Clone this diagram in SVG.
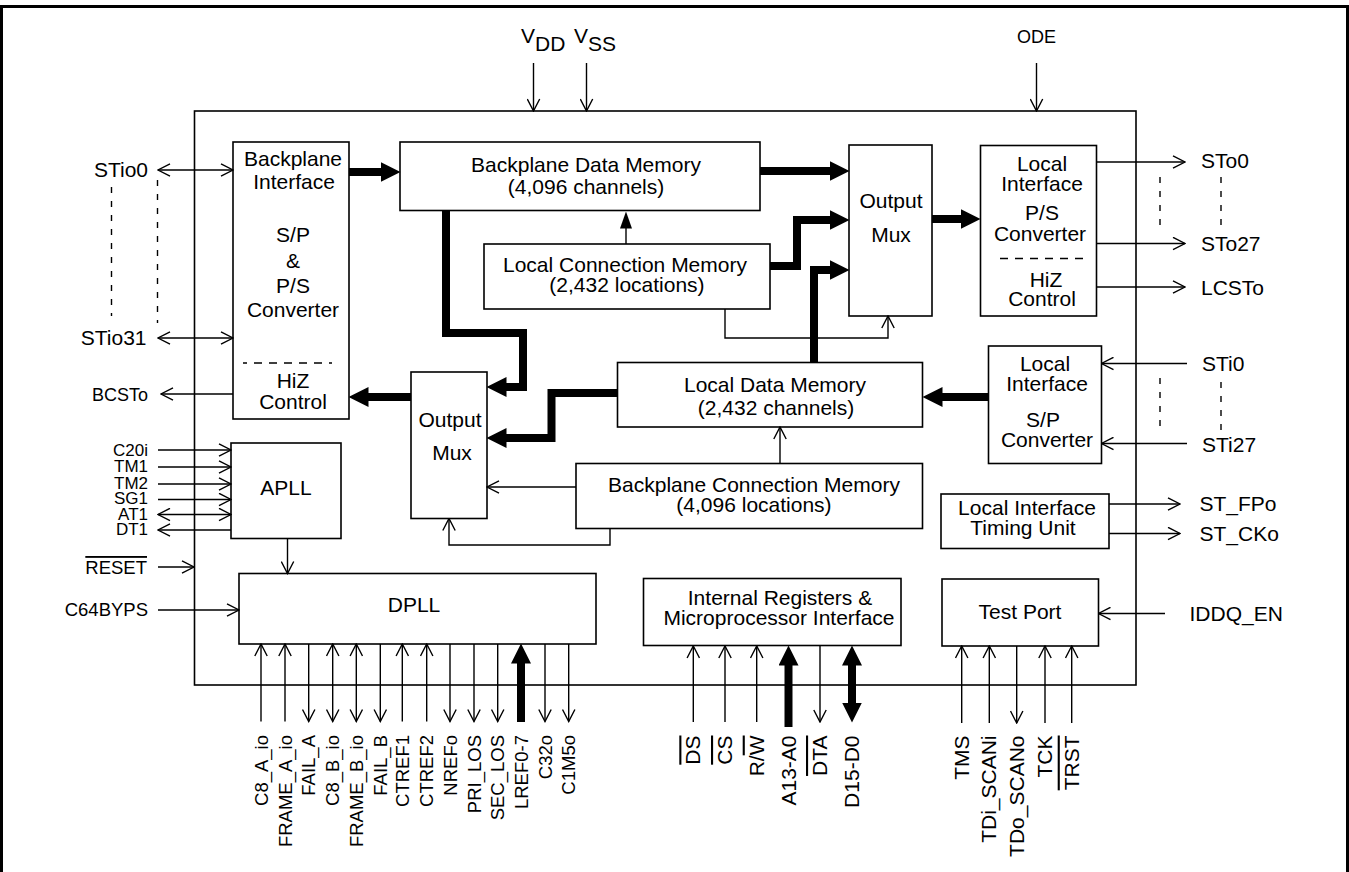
<svg xmlns="http://www.w3.org/2000/svg" width="1349" height="872" viewBox="0 0 1349 872">
<style>
text{font-family:"Liberation Sans",Arial,Helvetica,sans-serif;font-size:21px;fill:#000}
.box{fill:#fff;stroke:#000;stroke-width:1.6}
.c{text-anchor:middle}
.e{text-anchor:end}
.s17{font-size:17px}
.s18{font-size:18px}
.s185{font-size:18.5px}
.thin{fill:none;stroke:#000;stroke-width:1.4}
.thick{fill:none;stroke:#000;stroke-width:8;stroke-linejoin:miter}
.dash{fill:none;stroke:#000;stroke-width:1.4;stroke-dasharray:6 8}
.idash{fill:none;stroke:#000;stroke-width:1.4;stroke-dasharray:8 7}
.ov{text-decoration:overline}
</style>
<defs>
<marker id="oa" viewBox="0 0 14 14" refX="13" refY="7" markerWidth="14" markerHeight="14" markerUnits="userSpaceOnUse" orient="auto-start-reverse">
<path d="M1,0.8 L13,7 L1,13.2" fill="none" stroke="#000" stroke-width="1.4"/>
</marker>
<marker id="fa" viewBox="0 0 20 20" refX="0.5" refY="10" markerWidth="20" markerHeight="20" markerUnits="userSpaceOnUse" orient="auto-start-reverse">
<path d="M0,0 L20,10 L0,20 Z" fill="#000"/>
</marker>
<marker id="fs" viewBox="0 0 17 12" refX="0.5" refY="6" markerWidth="17" markerHeight="12" markerUnits="userSpaceOnUse" orient="auto">
<path d="M0,0 L17,6 L0,12 Z" fill="#000"/>
</marker>
</defs>

<g id="frame"><path d="M1.5,872 V6.5 H1347.5 V872" fill="none" stroke="#000" stroke-width="3"/></g>
<g id="chip"><rect x="194.5" y="111" width="941.5" height="574" fill="none" stroke="#000" stroke-width="1.6"/></g>

<g id="backplane-interface">
<rect class="box" x="233" y="142" width="116" height="277"/>
<text class="c" x="293" y="166">Backplane</text>
<text class="c" x="294" y="188.5">Interface</text>
<text class="c" x="293" y="242">S/P</text>
<text class="c" x="293" y="268">&amp;</text>
<text class="c" x="293" y="293">P/S</text>
<text class="c" x="293" y="317">Converter</text>
<line class="idash" x1="243" y1="363" x2="332" y2="363" stroke-dashoffset="4"/>
<text class="c" x="293" y="388">HiZ</text>
<text class="c" x="293" y="409">Control</text>
</g>

<g id="backplane-data-memory">
<rect class="box" x="400" y="142" width="360" height="68.5"/>
<text class="c" x="586" y="171.5">Backplane Data Memory</text>
<text class="c" x="586" y="194">(4,096 channels)</text>
</g>

<g id="local-connection-memory">
<rect class="box" x="484" y="244" width="286" height="65"/>
<text class="c" x="625" y="271.5">Local Connection Memory</text>
<text class="c" x="627" y="291.5">(2,432 locations)</text>
</g>

<g id="output-mux-right">
<rect class="box" x="849" y="145" width="83" height="171"/>
<text class="c" x="891" y="208">Output</text>
<text class="c" x="891" y="242">Mux</text>
</g>

<g id="local-interface-ps">
<rect class="box" x="980.5" y="145.5" width="116" height="170.5"/>
<text class="c" x="1042" y="170.5">Local</text>
<text class="c" x="1042" y="190.5">Interface</text>
<text class="c" x="1042" y="220">P/S</text>
<text class="c" x="1040" y="240.5">Converter</text>
<line class="idash" x1="1000" y1="258.5" x2="1088" y2="258.5"/>
<text class="c" x="1046" y="286.5">HiZ</text>
<text class="c" x="1042" y="306">Control</text>
</g>

<g id="output-mux-left">
<rect class="box" x="411" y="372" width="76" height="146.5"/>
<text class="c" x="450" y="426.5">Output</text>
<text class="c" x="452" y="460">Mux</text>
</g>

<g id="local-data-memory">
<rect class="box" x="617.5" y="362.5" width="305" height="64.5"/>
<text class="c" x="775" y="392">Local Data Memory</text>
<text class="c" x="776" y="414.5">(2,432 channels)</text>
</g>

<g id="local-interface-sp">
<rect class="box" x="988.5" y="346" width="113" height="117.5"/>
<text class="c" x="1045" y="371">Local</text>
<text class="c" x="1047" y="390.5">Interface</text>
<text class="c" x="1043" y="426.5">S/P</text>
<text class="c" x="1047" y="447">Converter</text>
</g>

<g id="backplane-connection-memory">
<rect class="box" x="576" y="463.5" width="346.5" height="65"/>
<text class="c" x="754" y="491.5">Backplane Connection Memory</text>
<text class="c" x="754" y="512">(4,096 locations)</text>
</g>

<g id="timing-unit">
<rect class="box" x="941" y="494" width="168" height="54.5"/>
<text class="c" x="1027" y="515">Local Interface</text>
<text class="c" x="1023" y="535">Timing Unit</text>
</g>

<g id="apll">
<rect class="box" x="231" y="443" width="110" height="95.5"/>
<text class="c" x="286" y="495">APLL</text>
</g>

<g id="dpll">
<rect class="box" x="239" y="573.5" width="357" height="70.5"/>
<text class="c" x="414" y="612">DPLL</text>
</g>

<g id="internal-registers">
<rect class="box" x="643.5" y="578.5" width="257.5" height="67"/>
<text class="c" x="780" y="605">Internal Registers &amp;</text>
<text class="c" x="779" y="625">Microprocessor Interface</text>
</g>

<g id="test-port">
<rect class="box" x="942" y="579" width="156.5" height="67"/>
<text class="c" x="1020" y="619">Test Port</text>
</g>

<g id="connectors">
<path class="thick" d="M349,172 H381" marker-end="url(#fa)"/>
<path class="thick" d="M760,171 H830" marker-end="url(#fa)"/>
<path class="thick" d="M770,266 H797 V220 H830" marker-end="url(#fa)"/>
<path class="thick" d="M814,362 V270 H830" marker-end="url(#fa)"/>
<path class="thick" d="M932,219 H961" marker-end="url(#fa)"/>
<path class="thick" d="M446,210 V333 H523 V387 H506" marker-end="url(#fa)"/>
<path class="thick" d="M618,393 H551.5 V438 H506" marker-end="url(#fa)"/>
<path class="thick" d="M411,397 H368" marker-end="url(#fa)"/>
<path class="thick" d="M988,397 H942" marker-end="url(#fa)"/>
<path class="thick" d="M521,722 V663" marker-end="url(#fa)"/>
<path class="thick" d="M788.5,727 V665" marker-end="url(#fa)"/>
<path class="thick" d="M852,703 V665" marker-start="url(#fa)" marker-end="url(#fa)"/>
<path class="thin" d="M626,244 V228" marker-end="url(#fs)"/>
<path class="thin" d="M780,463 V427" marker-end="url(#oa)"/>
<path class="thin" d="M576,487 H487" marker-end="url(#oa)"/>
<path class="thin" d="M610,528.5 V545 H449 V518.5" marker-end="url(#oa)"/>
<path class="thin" d="M725,309 V338 H888 V316" marker-end="url(#oa)"/>
<path class="thin" d="M287.5,538.5 V573.5" marker-end="url(#oa)"/>
<path class="thin" d="M533.5,63 V111" marker-end="url(#oa)"/>
<path class="thin" d="M586.5,63 V111" marker-end="url(#oa)"/>
<path class="thin" d="M1036.5,63 V111" marker-end="url(#oa)"/>
<path class="thin" d="M158,170 H233" marker-start="url(#oa)" marker-end="url(#oa)"/>
<path class="thin" d="M158,338 H233" marker-start="url(#oa)" marker-end="url(#oa)"/>
<path class="thin" d="M233,394 H161" marker-end="url(#oa)"/>
<path class="thin" d="M158,450 H231" marker-end="url(#oa)"/>
<path class="thin" d="M158,467 H231" marker-end="url(#oa)"/>
<path class="thin" d="M158,484 H231" marker-end="url(#oa)"/>
<path class="thin" d="M158,499.5 H231" marker-end="url(#oa)"/>
<path class="thin" d="M158,514.5 H231" marker-start="url(#oa)" marker-end="url(#oa)"/>
<path class="thin" d="M231,530 H158" marker-end="url(#oa)"/>
<path class="thin" d="M158,567 H194" marker-end="url(#oa)"/>
<path class="thin" d="M158,610 H239" marker-end="url(#oa)"/>
<line class="dash" x1="111.5" y1="187" x2="111.5" y2="316"/>
<line class="dash" x1="157.5" y1="180" x2="157.5" y2="323"/>
<path class="thin" d="M1096.5,162 H1185" marker-end="url(#oa)"/>
<path class="thin" d="M1096.5,243.5 H1185" marker-end="url(#oa)"/>
<path class="thin" d="M1096.5,287 H1185" marker-end="url(#oa)"/>
<line class="dash" x1="1160" y1="177" x2="1160" y2="232"/>
<line class="dash" x1="1221" y1="177" x2="1221" y2="232"/>
<path class="thin" d="M1187,363.5 H1101.5" marker-end="url(#oa)"/>
<path class="thin" d="M1187,443.5 H1101.5" marker-end="url(#oa)"/>
<line class="dash" x1="1160" y1="378" x2="1160" y2="427"/>
<line class="dash" x1="1221" y1="382" x2="1221" y2="430"/>
<path class="thin" d="M1109,504 H1180" marker-end="url(#oa)"/>
<path class="thin" d="M1109,533.5 H1180" marker-end="url(#oa)"/>
<path class="thin" d="M1165,613.5 H1098.5" marker-end="url(#oa)"/>
<path class="thin" d="M261,721.5 V644" marker-end="url(#oa)"/>
<path class="thin" d="M285,721.5 V644" marker-end="url(#oa)"/>
<path class="thin" d="M308.7,644 V721.5" marker-end="url(#oa)"/>
<path class="thin" d="M332.7,644 V721.5" marker-start="url(#oa)" marker-end="url(#oa)"/>
<path class="thin" d="M356.3,644 V721.5" marker-start="url(#oa)" marker-end="url(#oa)"/>
<path class="thin" d="M380.3,644 V721.5" marker-end="url(#oa)"/>
<path class="thin" d="M402.3,721.5 V644" marker-end="url(#oa)"/>
<path class="thin" d="M426.7,721.5 V644" marker-end="url(#oa)"/>
<path class="thin" d="M450,644 V721.5" marker-end="url(#oa)"/>
<path class="thin" d="M474,644 V721.5" marker-end="url(#oa)"/>
<path class="thin" d="M497.7,644 V721.5" marker-end="url(#oa)"/>
<path class="thin" d="M545,644 V721.5" marker-end="url(#oa)"/>
<path class="thin" d="M568.7,644 V721.5" marker-end="url(#oa)"/>
<path class="thin" d="M693.3,722 V646" marker-end="url(#oa)"/>
<path class="thin" d="M725,722 V646" marker-end="url(#oa)"/>
<path class="thin" d="M756.7,722 V646" marker-end="url(#oa)"/>
<path class="thin" d="M820,646 V722" marker-end="url(#oa)"/>
<path class="thin" d="M961.7,723 V646" marker-end="url(#oa)"/>
<path class="thin" d="M989.3,723 V646" marker-end="url(#oa)"/>
<path class="thin" d="M1016.7,646 V723" marker-end="url(#oa)"/>
<path class="thin" d="M1045,723 V646" marker-end="url(#oa)"/>
<path class="thin" d="M1071.7,723 V646" marker-end="url(#oa)"/>
</g>

<g id="pin-labels">
<text x="521" y="43" font-size="18">V<tspan dy="7.5">DD</tspan></text>
<text x="574" y="43" font-size="18">V<tspan dy="7.5">SS</tspan></text>
<text class="c s18" x="1036.5" y="42.5">ODE</text>

<text class="e" x="148" y="176.5">STio0</text>
<text class="e" x="146.5" y="345">STio31</text>
<text class="e s18" x="148" y="400.5">BCSTo</text>
<text class="e s17" x="148" y="455.5">C20i</text>
<text class="e s17" x="148" y="472">TM1</text>
<text class="e s17" x="148" y="488.5">TM2</text>
<text class="e s17" x="148" y="504">SG1</text>
<text class="e s17" x="148" y="519.5">AT1</text>
<text class="e s17" x="148" y="535">DT1</text>
<text class="e s185 ov" x="147" y="574">RESET</text>
<text class="e s185" x="148" y="616">C64BYPS</text>

<text x="1201" y="168">STo0</text>
<text x="1201" y="251">STo27</text>
<text x="1201" y="295">LCSTo</text>
<text x="1202" y="370.5">STi0</text>
<text x="1202" y="451.5">STi27</text>
<text x="1199.5" y="511">ST_FPo</text>
<text x="1199.5" y="541">ST_CKo</text>
<text x="1189.5" y="621">IDDQ_EN</text>

<text class="e s185" transform="translate(267.5,735) rotate(-90)">C8_A_io</text>
<text class="e s185" transform="translate(291.5,735) rotate(-90)">FRAME_A_io</text>
<text class="e s185" transform="translate(315.2,735) rotate(-90)">FAIL_A</text>
<text class="e s185" transform="translate(339.2,735) rotate(-90)">C8_B_io</text>
<text class="e s185" transform="translate(362.8,735) rotate(-90)">FRAME_B_io</text>
<text class="e s185" transform="translate(386.8,735) rotate(-90)">FAIL_B</text>
<text class="e s185" transform="translate(408.8,735) rotate(-90)">CTREF1</text>
<text class="e s185" transform="translate(433.2,735) rotate(-90)">CTREF2</text>
<text class="e s185" transform="translate(456.5,735) rotate(-90)">NREFo</text>
<text class="e s185" transform="translate(480.5,735) rotate(-90)">PRI_LOS</text>
<text class="e s185" transform="translate(504.2,735) rotate(-90)">SEC_LOS</text>
<text class="e s185" transform="translate(527.5,735) rotate(-90)">LREF0-7</text>
<text class="e s185" transform="translate(551.5,735) rotate(-90)">C32o</text>
<text class="e s185" transform="translate(575.2,735) rotate(-90)">C1M5o</text>

<text class="e ov" transform="translate(700.3,735.5) rotate(-90)">DS</text>
<text class="e ov" transform="translate(732,735.5) rotate(-90)">CS</text>
<text class="e" transform="translate(763.7,735.5) rotate(-90)">R/<tspan class="ov">W</tspan></text>
<text class="e" transform="translate(795.5,735.5) rotate(-90)">A13-A0</text>
<text class="e ov" transform="translate(827,735.5) rotate(-90)">DTA</text>
<text class="e" transform="translate(858.7,735.5) rotate(-90)">D15-D0</text>

<text class="e" transform="translate(968.7,735.5) rotate(-90)">TMS</text>
<text class="e" transform="translate(996.3,735.5) rotate(-90)">TDi_SCANi</text>
<text class="e" transform="translate(1023.7,735.5) rotate(-90)">TDo_SCANo</text>
<text class="e" transform="translate(1052,735.5) rotate(-90)">TCK</text>
<text class="e ov" transform="translate(1078.7,735.5) rotate(-90)">TRST</text>
</g>
</svg>
